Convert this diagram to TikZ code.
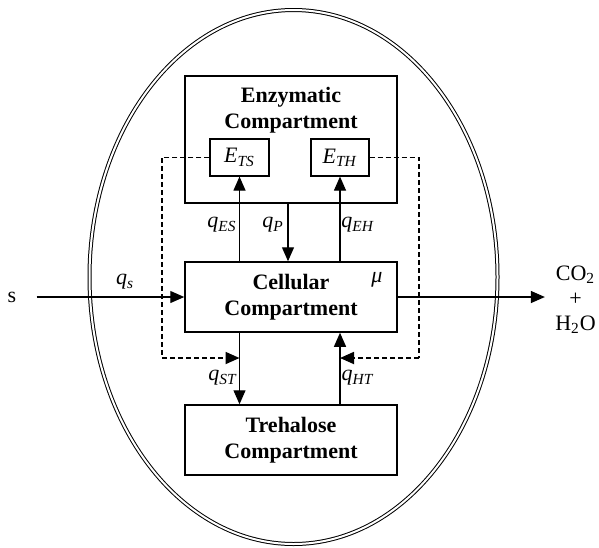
\documentclass[tikz,border=0pt]{standalone}
\usepackage{fontspec}
\setmainfont{Liberation Serif}
\usetikzlibrary{arrows.meta}
\newcommand{\qv}[2]{\textit{#1}\textsubscript{\textit{#2}}}
\tikzset{
  box/.style={draw, line width=0.75pt, inner sep=0pt, align=center, font=\fontsize{11}{13}\selectfont\bfseries},
  ebox/.style={draw, line width=0.6pt, inner sep=0pt, font=\fontsize{11}{13}\selectfont},
  ttl/.style={align=center, inner sep=0pt, font=\fontsize{11}{13}\selectfont\bfseries},
  lbl/.style={inner sep=0pt, font=\fontsize{11}{13}\selectfont},
  tip/.style={-{Triangle[length=7pt,width=6pt]}},
  arr/.style={line width=0.6pt, tip},
  dsh/.style={line width=0.9pt, dash pattern=on 2.5pt off 1.5pt},
}
\begin{document}
\begin{tikzpicture}[x=0.5pt,y=-0.5pt]
\useasboundingbox (0,0) rectangle (599,547);
% cell membrane
\draw[line width=0.5pt, double, double distance=1pt] (293.5,277) ellipse [x radius=102pt, y radius=133.5pt];
% compartments
\node[box, minimum width=106pt, minimum height=63.5pt] (enz) at (291,139.5) {};
\node[ttl] (enzt) at (291,110) {Enzymatic\\Compartment};
\node[ebox, minimum width=29.5pt, minimum height=18.5pt] (ets) at (239.5,157.5) {\qv{E}{TS}};
\node[ebox, minimum width=29pt, minimum height=18.5pt] (eth) at (340,157.5) {\qv{E}{TH}};
\node[box, minimum width=106pt, minimum height=35pt] (cell) at (291,297) {Cellular\\Compartment};
\node[box, minimum width=106pt, minimum height=35pt] (tre) at (291,440) {Trehalose\\Compartment};
% flux arrows
\coordinate (qp) at (288,230);
\draw[arr] (cell.north -| ets) -- (ets.south);
\draw[arr] (enz.south -| qp) -- (cell.north -| qp);
\draw[arr] (cell.north -| eth) -- (eth.south);
\draw[arr] (cell.south -| ets) -- (tre.north -| ets);
\draw[arr] (tre.north -| eth) -- (cell.south -| eth);
% regulation loops
\coordinate (dl) at (162,358);
\coordinate (dr) at (419,358);
\draw[dsh] (ets.west) -| (dl);
\draw[dsh, tip] (dl) -- (dl -| ets);
\draw[dsh] (eth.east) -| (dr);
\draw[dsh, tip] (dr) -- (dr -| eth);
% labels
\node[lbl] (les) at (222,225) {\qv{q}{ES}};
\node[lbl] (lp) at (273,225) {\qv{q}{P}};
\node[lbl] (leh) at (358,225) {\qv{q}{EH}};
\node[lbl] (lst) at (223,378) {\qv{q}{ST}};
\node[lbl] (lht) at (358,378) {\qv{q}{HT}};
\node[lbl] (lmu) at (377,280) {\textit{μ}};
% substrate in / products out
\node[lbl, inner xsep=10pt] (s) at (12,297) {s};
\node[lbl] (lqs) at (125,282) {\qv{q}{s}};
\draw[arr] (s.east) -- (cell.west);
\node[lbl, align=center, inner xsep=5pt, font=\fontsize{11}{12.5}\selectfont] (out) at (575.5,300) {CO\textsubscript{2}\\+\\H\textsubscript{2}O};
\draw[arr] (cell.east) -- (cell.east -| out.west);
\end{tikzpicture}
\end{document}
